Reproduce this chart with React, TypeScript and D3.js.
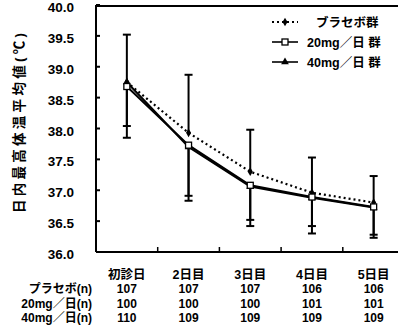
import React, { useEffect, useRef } from 'react';
import * as d3 from 'd3';

const DAYS = ["初診日", "2日目", "3日目", "4日目", "5日目"];
const Y_TICKS = [36.0, 36.5, 37.0, 37.5, 38.0, 38.5, 39.0, 39.5, 40.0];

const PLACEBO_MEAN = [38.75, 37.93, 37.30, 36.96, 36.80];
const PLACEBO_UPPER = [39.52, 38.87, 37.98, 37.53, 37.23];
const MG20_MEAN = [38.68, 37.73, 37.08, 36.89, 36.73];
const MG20_LOWER = [38.04, 36.91, 36.52, 36.42, 36.28];
const MG40_MEAN = [38.75, 37.70, 37.06, 36.88, 36.72];
const MG40_LOWER = [37.85, 36.83, 36.42, 36.30, 36.23];

const N_ROWS = [
    { label: "プラセボ(n)", values: ["107", "107", "107", "106", "106"] },
    { label: "20mg／日(n)", values: ["100", "100", "100", "101", "101"] },
    { label: "40mg／日(n)", values: ["110", "109", "109", "109", "109"] },
];

const LEGEND = [
    { label: "ブラセボ群", key: "placebo", textX: 316 },
    { label: "20mg／日 群", key: "mg20", textX: 307 },
    { label: "40mg／日 群", key: "mg40", textX: 307 },
];

const FONT = "'Liberation Sans', Arial, 'Noto Sans CJK JP', sans-serif";

function drawMarker(g, kind, x, y) {
    if (kind === "placebo") {
        g.append("path")
            .attr("d", d3.symbol().type(d3.symbolDiamond).size(22)())
            .attr("transform", `translate(${x},${y})`)
            .attr("fill", "#000");
    } else if (kind === "mg20") {
        g.append("rect")
            .attr("x", x - 3).attr("y", y - 3)
            .attr("width", 6).attr("height", 6)
            .attr("fill", "#fff").attr("stroke", "#000").attr("stroke-width", 1.3);
    } else {
        g.append("path")
            .attr("d", d3.symbol().type(d3.symbolTriangle).size(26)())
            .attr("transform", `translate(${x},${y})`)
            .attr("fill", "#000");
    }
}

function App() {
    const svgRef = useRef(null);
    const width = 398;
    const height = 329;
    const plotLeft = 96;
    const plotTop = 5;
    const plotBottom = 252;

    useEffect(() => {
        const svg = d3.select(svgRef.current);
        svg.selectAll("*").remove();
        svg.style("font-family", FONT);

        const x = d3.scaleBand().domain(DAYS).range([plotLeft, 404.5]);
        const cx = (i) => x(DAYS[i]) + x.bandwidth() / 2;
        const y = d3.scaleLinear().domain([36, 40]).range([plotBottom, plotTop]);

        // frame: top, left, bottom
        svg.append("line").attr("x1", plotLeft).attr("x2", width).attr("y1", plotTop + 1).attr("y2", plotTop + 1)
            .attr("stroke", "#000").attr("stroke-width", 2);
        svg.append("line").attr("x1", plotLeft).attr("x2", width).attr("y1", plotBottom).attr("y2", plotBottom)
            .attr("stroke", "#000").attr("stroke-width", 2);
        svg.append("line").attr("x1", plotLeft).attr("x2", plotLeft).attr("y1", plotTop).attr("y2", plotBottom)
            .attr("stroke", "#000").attr("stroke-width", 2);

        // y ticks (inward)
        Y_TICKS.forEach(t => {
            svg.append("line").attr("x1", plotLeft).attr("x2", plotLeft + 4)
                .attr("y1", y(t)).attr("y2", y(t)).attr("stroke", "#000").attr("stroke-width", 2);
            svg.append("text")
                .attr("x", 74).attr("y", y(t) + 7)
                .attr("text-anchor", "end")
                .style("font-size", "13.5px").style("font-weight", "bold")
                .text(t.toFixed(1));
        });

        // x ticks at band boundaries (inward)
        DAYS.slice(1).forEach(d => {
            svg.append("line").attr("x1", x(d)).attr("x2", x(d))
                .attr("y1", plotBottom).attr("y2", plotBottom - 5).attr("stroke", "#000").attr("stroke-width", 1.5);
        });

        // y label
        svg.append("text")
            .attr("transform", `translate(24,123) rotate(-90)`)
            .attr("text-anchor", "middle")
            .attr("textLength", 180)
            .attr("lengthAdjust", "spacing")
            .style("font-size", "13.5px").style("font-weight", "bold")
            .text("日内最高体温平均値(℃)");

        // x labels and n rows
        DAYS.forEach((d, i) => {
            svg.append("text").attr("x", cx(i)).attr("y", 279)
                .attr("text-anchor", "middle")
                .style("font-size", "12.5px").style("font-weight", "bold")
                .text(d);
        });
        N_ROWS.forEach((row, r) => {
            const by = 293 + r * 14.5;
            svg.append("text").attr("x", 92).attr("y", by)
                .attr("text-anchor", "end")
                .style("font-size", "12px").style("font-weight", "bold")
                .text(row.label);
            row.values.forEach((v, i) => {
                svg.append("text").attr("x", cx(i)).attr("y", by)
                    .attr("text-anchor", "middle")
                    .style("font-size", "12px").style("font-weight", "bold")
                    .text(v);
            });
        });

        // error bars
        const errG = svg.append("g").attr("stroke", "#000").attr("stroke-width", 2);
        const bar = (i, from, to) => {
            errG.append("line").attr("x1", cx(i)).attr("x2", cx(i)).attr("y1", y(from)).attr("y2", y(to));
            errG.append("line").attr("x1", cx(i) - 4).attr("x2", cx(i) + 4).attr("y1", y(to)).attr("y2", y(to));
        };
        DAYS.forEach((d, i) => {
            bar(i, PLACEBO_MEAN[i], PLACEBO_UPPER[i]);
            bar(i, MG20_MEAN[i], MG20_LOWER[i]);
            bar(i, MG40_MEAN[i], MG40_LOWER[i]);
        });

        // lines
        const line = d3.line().x((d, i) => cx(i)).y(d => y(d));
        svg.append("path").datum(PLACEBO_MEAN).attr("d", line)
            .attr("fill", "none").attr("stroke", "#000").attr("stroke-width", 2.2)
            .attr("stroke-dasharray", "2,3");
        svg.append("path").datum(MG20_MEAN).attr("d", line)
            .attr("fill", "none").attr("stroke", "#000").attr("stroke-width", 2);
        svg.append("path").datum(MG40_MEAN).attr("d", line)
            .attr("fill", "none").attr("stroke", "#000").attr("stroke-width", 2);

        const markG = svg.append("g");
        DAYS.forEach((d, i) => {
            drawMarker(markG, "placebo", cx(i), y(PLACEBO_MEAN[i]));
            drawMarker(markG, "mg40", cx(i), y(MG40_MEAN[i]));
            drawMarker(markG, "mg20", cx(i), y(MG20_MEAN[i]));
        });

        // legend
        LEGEND.forEach((item, k) => {
            const ly = 22 + k * 20;
            svg.append("line").attr("x1", 272).attr("x2", 298).attr("y1", ly).attr("y2", ly)
                .attr("stroke", "#000").attr("stroke-width", item.key === "placebo" ? 2 : 1.6)
                .attr("stroke-dasharray", item.key === "placebo" ? "2,3" : null);
            drawMarker(svg, item.key, 285, ly);
            svg.append("text").attr("x", item.textX).attr("y", ly + 5)
                .style("font-size", "12.5px").style("font-weight", "bold")
                .text(item.label);
        });
    }, []);

    return (
        <svg
            ref={svgRef}
            width={width}
            height={height}
            style={{ position: "absolute", left: 0, top: 0, background: "#fff" }}
        />
    );
}

export default App;
